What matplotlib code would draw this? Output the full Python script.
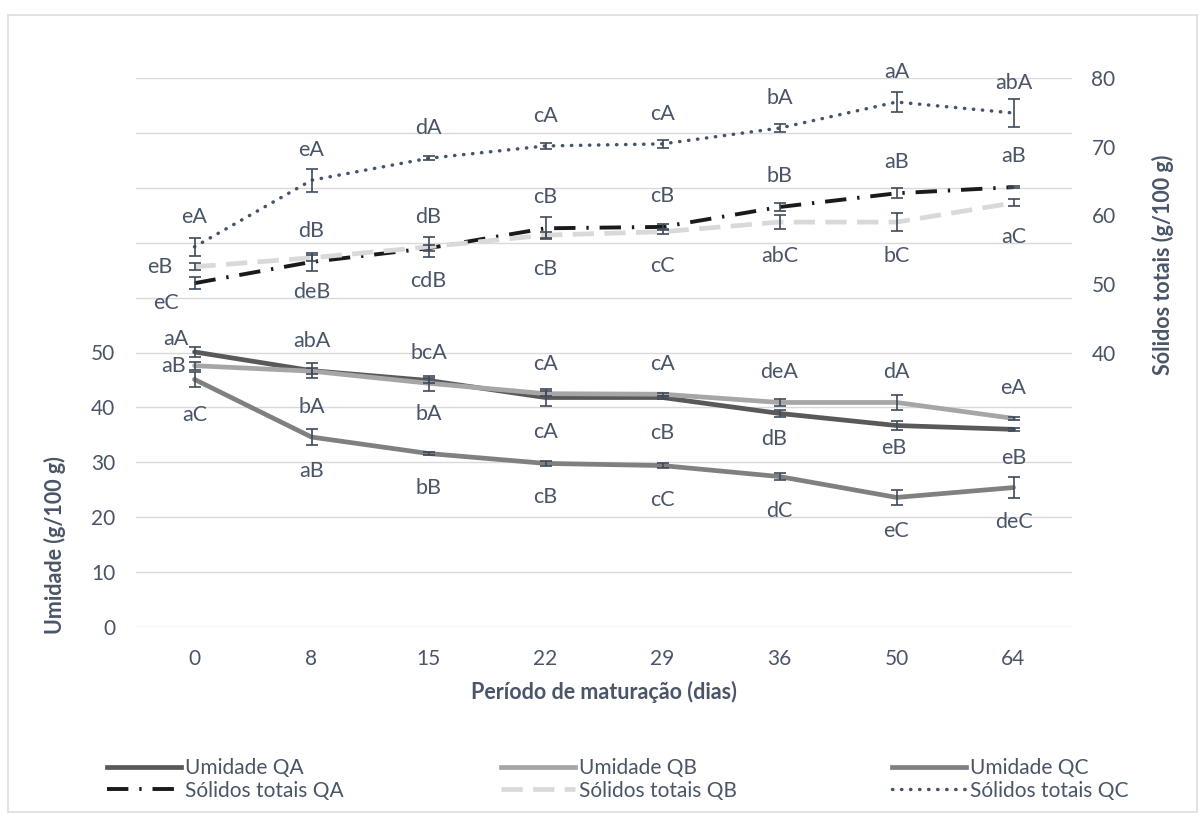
import numpy as np
import matplotlib
matplotlib.use("Agg")
import matplotlib.pyplot as plt
from matplotlib.lines import Line2D
from matplotlib.patches import Rectangle

# data
dias = ['0', '8', '15', '22', '29', '36', '50', '64']

umidade_qa = [50.1, 46.7, 44.9, 41.8, 41.8, 38.9, 36.7, 36.0]
umidade_qa_err = [0.9, 1.3, 0.4, 1.5, 0.3, 0.6, 0.8, 0.3]
umidade_qb = [47.6, 46.6, 44.4, 42.5, 42.4, 40.9, 40.9, 38.0]
umidade_qb_err = [0.7, 0.5, 1.4, 0.5, 0.3, 0.7, 1.4, 0.3]
umidade_qc = [45.1, 34.6, 31.6, 29.8, 29.4, 27.4, 23.6, 25.4]
umidade_qc_err = [1.4, 1.5, 0.3, 0.5, 0.5, 0.6, 1.4, 1.9]

solidos_qa = [50.1, 53.2, 55.2, 58.1, 58.3, 61.2, 63.2, 64.1]
solidos_qa_err = [0.9, 1.3, 0.4, 1.6, 0.4, 0.6, 0.7, 0.2]
solidos_qb = [52.5, 53.8, 55.4, 57.1, 57.6, 59.0, 59.0, 61.8]
solidos_qb_err = [0.5, 0.4, 1.5, 0.4, 0.4, 1.0, 1.3, 0.5]
solidos_qc = [55.4, 65.1, 68.3, 70.1, 70.4, 72.7, 76.5, 74.9]
solidos_qc_err = [1.3, 1.7, 0.3, 0.5, 0.6, 0.6, 1.5, 2.0]

# letras de significancia
lab_umidade_qa = ['aA', 'bA', 'bA', 'cA', 'cB', 'dB', 'eB', 'eB']
lab_umidade_qb = ['aB', 'abA', 'bcA', 'cA', 'cA', 'deA', 'dA', 'eA']
lab_umidade_qc = ['aC', 'aB', 'bB', 'cB', 'cC', 'dC', 'eC', 'deC']
lab_solidos_qa = ['eC', 'dB', 'dB', 'cB', 'cB', 'bB', 'aB', 'aB']
lab_solidos_qb = ['eB', 'deB', 'cdB', 'cB', 'cC', 'abC', 'bC', 'aC']
lab_solidos_qc = ['eA', 'eA', 'dA', 'cA', 'cA', 'bA', 'aA', 'abA']

# label offsets in pixels (dx, dy up)
off_umidade_qa = [(-19, 13), (0, -36), (0, -34), (0, -34), (0, -35), (-5, -26), (-3, -22), (0, -29)]
off_umidade_qb = [(-21, 0)] + [(0, 30)] * 7
off_umidade_qc = [(0, -36)] + [(0, -34)] * 7
off_solidos_qa = [(-29, -20)] + [(0, 31)] * 7
off_solidos_qb = [(-35, 0)] + [(0, -34)] * 7
off_solidos_qc = [(0, 30)] * 8

txt = '#4a5568'
err_c = '#3f4a5a'
plt.rcParams['font.family'] = ['Lato', 'DejaVu Sans']

fig = plt.figure(figsize=(12.02, 8.17), dpi=100)
W, H = 1202, 817
ax = fig.add_axes([136 / W, 1 - 627 / H, (1072 - 136) / W, (627 - 78) / H])
ax2 = ax.twinx()

x = np.arange(len(dias))

ax.set_ylim(0, 100)
ax.set_xlim(-0.5, len(dias) - 0.5)
ax2.set_ylim(0, 80)
ax.set_yticks(np.arange(0, 101, 10))
ax.set_yticklabels([str(v) if v <= 50 else '' for v in range(0, 101, 10)])
ax2.set_yticks([40, 50, 60, 70, 80])
ax.set_xticks(x)
ax.set_xticklabels(dias)
ax.grid(axis='y', color='#d9d9d9', lw=1)
ax.set_axisbelow(True)
for a in (ax, ax2):
    for s in a.spines.values():
        s.set_visible(False)
ax.tick_params(axis='y', length=0, pad=15, labelsize=15, labelcolor=txt)
ax.tick_params(axis='x', length=0, pad=16, labelsize=15, labelcolor=txt)
ax2.tick_params(axis='y', length=0, pad=14, labelsize=15, labelcolor=txt)

ekw = dict(fmt='none', ecolor=err_c, elinewidth=1.2, capsize=4.5, capthick=1.2, zorder=5)

qa_dashdot = (0, (5.5, 2.8, 0.6, 2.8))
qb_dash = (0, (4.5, 2.2))
qc_dot = (0, (0.1, 2.5))

# umidade (eixo esquerdo)
ax.plot(x, umidade_qa, color='#595959', lw=3.4, solid_capstyle='round', zorder=3)
ax.plot(x, umidade_qb, color='#a6a6a6', lw=3.4, solid_capstyle='round', zorder=3)
ax.plot(x, umidade_qc, color='#808080', lw=3.4, solid_capstyle='round', zorder=3)
ax.errorbar(x, umidade_qa, yerr=umidade_qa_err, **ekw)
ax.errorbar(x, umidade_qb, yerr=umidade_qb_err, **ekw)
ax.errorbar(x, umidade_qc, yerr=umidade_qc_err, **ekw)

# solidos totais (eixo direito)
ax2.plot(x, solidos_qa, color='#1a1a1a', lw=2.8, linestyle=qa_dashdot, zorder=3)
ax2.plot(x, solidos_qb, color='#d9d9d9', lw=3.4, linestyle=qb_dash, zorder=3)
ax2.plot(x, solidos_qc, color='#44546a', lw=2.5, linestyle=qc_dot, dash_capstyle='round', zorder=3)
ax2.errorbar(x, solidos_qa, yerr=solidos_qa_err, **ekw)
ax2.errorbar(x, solidos_qb, yerr=solidos_qb_err, **ekw)
ax2.errorbar(x, solidos_qc, yerr=solidos_qc_err, **ekw)


def put_labels(a, vals, labs, offs):
    for xi, v, l, (dx, dy) in zip(x, vals, labs, offs):
        a.annotate(l, (xi, v), xytext=(dx, dy), textcoords='offset pixels',
                   ha='center', va='center', fontsize=15.5, color=txt, zorder=6)


put_labels(ax, umidade_qa, lab_umidade_qa, off_umidade_qa)
put_labels(ax, umidade_qb, lab_umidade_qb, off_umidade_qb)
put_labels(ax, umidade_qc, lab_umidade_qc, off_umidade_qc)
put_labels(ax2, solidos_qa, lab_solidos_qa, off_solidos_qa)
put_labels(ax2, solidos_qb, lab_solidos_qb, off_solidos_qb)
put_labels(ax2, solidos_qc, lab_solidos_qc, off_solidos_qc)

# axis titles
fig.text(55 / W, 1 - 545 / H, 'Umidade (g/100 g)', rotation=90, ha='center', va='center',
         fontsize=15.5, fontweight='bold', color=txt)
fig.text(1163 / W, 1 - 265 / H, 'Sólidos totais (g/100 g)', rotation=90, ha='center', va='center',
         fontsize=15.5, fontweight='bold', color=txt)
fig.text((136 + 1072) / 2 / W, 1 - 692 / H, 'Período de maturação (dias)', ha='center', va='center',
         fontsize=15.5, fontweight='bold', color=txt)

# legend: three columns
cols = [
    [Line2D([], [], color='#595959', lw=3.4), Line2D([], [], color='#1a1a1a', lw=2.8, linestyle=qa_dashdot)],
    [Line2D([], [], color='#a6a6a6', lw=3.4), Line2D([], [], color='#d9d9d9', lw=3.4, linestyle=qb_dash)],
    [Line2D([], [], color='#808080', lw=3.4), Line2D([], [], color='#44546a', lw=2.5, linestyle=qc_dot, dash_capstyle='round')],
]
names = [['Umidade QA', 'Sólidos totais QA'], ['Umidade QB', 'Sólidos totais QB'], ['Umidade QC', 'Sólidos totais QC']]
for hx, hs, ns in zip([107, 501, 892], cols, names):
    fig.legend(hs, ns, loc='upper left', bbox_to_anchor=(hx / W, 1 - 758 / H), frameon=False,
               fontsize=15, handlelength=3.55, handletextpad=0.2, borderpad=0, borderaxespad=0,
               labelspacing=0.12, labelcolor=txt)

fig.patches.append(Rectangle((8 / W, 1 - 812 / H), (1197 - 8) / W, (812 - 15) / H, transform=fig.transFigure,
                             fill=False, ec='#d9dde3', lw=1.2))

fig.savefig('out.png', dpi=100)
